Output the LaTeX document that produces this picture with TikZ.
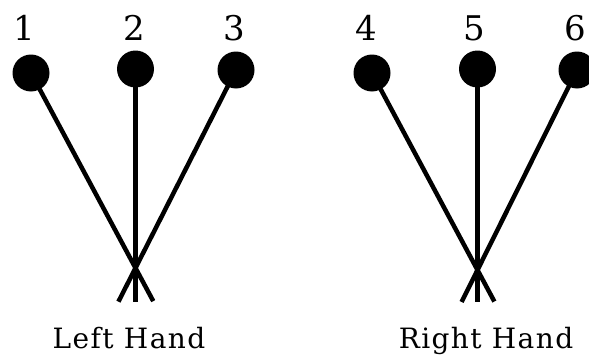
\documentclass[tikz,border=0pt]{standalone}
\usepackage{fontspec}
\setmainfont{DejaVu Serif}
\usetikzlibrary{calc}
\begin{document}
\begin{tikzpicture}[x=1pt,y=-1pt,
  dot/.style={circle,fill=black,inner sep=0pt,minimum size=37pt},
  num/.style={font=\fontsize{34}{40}\selectfont,inner sep=0pt},
  hand/.style={font=\fontsize{28}{32}\selectfont\addfontfeature{LetterSpace=5},anchor=base,inner sep=0pt},
  stick/.style={line width=4.5pt}]
\useasboundingbox (0,0) rectangle (589,356);
\clip (0,0) rectangle (589,356);
% left hand
\node[dot] (d1) at (31,73) {};
\node[dot] (d2) at (135.5,69) {};
\node[dot] (d3) at (236,70) {};
\coordinate (xl) at (135.5,268);
\node[num] (n1) at (24,28) {1};
\node[num] (n2) at (134,28) {2};
\node[num] (n3) at (234,28) {3};
\draw[stick] (d1.center) -- ($(d1.center)!1.17!(xl)$);
\draw[stick] (d2.center) -- ($(d2.center)!1.17!(xl)$);
\draw[stick] (d3.center) -- ($(d3.center)!1.17!(xl)$);
\node[hand] (lh) at (129,348) {Left Hand};
% right hand
\node[dot] (d4) at (372,73) {};
\node[dot] (d5) at (477.5,69) {};
\node[dot] (d6) at (577,70) {};
\coordinate (xr) at (477.5,270);
\node[num] (n4) at (366,28) {4};
\node[num] (n5) at (474,28) {5};
\node[num] (n6) at (575,28) {6};
\draw[stick] (d4.center) -- ($(d4.center)!1.16!(xr)$);
\draw[stick] (d5.center) -- ($(d5.center)!1.16!(xr)$);
\draw[stick] (d6.center) -- ($(d6.center)!1.16!(xr)$);
\node[hand] (rh) at (486,348) {Right Hand};
\end{tikzpicture}
\end{document}
